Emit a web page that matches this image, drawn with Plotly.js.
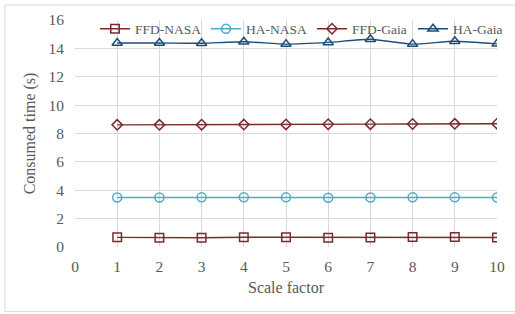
<!DOCTYPE html>
<html>
<head>
<meta charset="utf-8">
<script src="https://cdn.plot.ly/plotly-3.0.1.min.js"></script>
<style>html,body{margin:0;padding:0;background:#fff;}#chart{width:515px;height:314px;}</style>
</head>
<body>
<div id="chart"></div>
<script>
const scaleFactor = [1, 2, 3, 4, 5, 6, 7, 8, 9, 10];
const ffdNasa = [0.68, 0.65, 0.65, 0.69, 0.69, 0.66, 0.67, 0.71, 0.71, 0.67];
const haNasa = [3.49, 3.49, 3.5, 3.51, 3.5, 3.47, 3.49, 3.5, 3.5, 3.49];
const ffdGaia = [8.61, 8.61, 8.62, 8.63, 8.64, 8.65, 8.66, 8.67, 8.68, 8.69];
const haGaia = [14.38, 14.38, 14.36, 14.47, 14.3, 14.42, 14.64, 14.3, 14.5, 14.32];
const seriesNames = ["FFD-NASA", "HA-NASA", "FFD-Gaia", "HA-Gaia"];

const fam = "Liberation Serif";
const gray = "#595959";
const tickFont = {family: fam, size: 15.5, color: gray};
const titleFont = {family: fam, size: 16, color: gray};
const legFont = {family: fam, size: 13.5, color: gray};
function tr(name, y, color, symbol, size, legendId, spline) {
  return {
    x: scaleFactor, y: y, name: name, type: "scatter", mode: "lines+markers", legend: legendId,
    line: {color: color, width: 1.4, shape: spline ? "spline" : "linear", smoothing: 0.5},
    marker: {symbol: symbol, size: size, color: color, line: {color: color, width: 1.5}}
  };
}
const data = [
  tr(seriesNames[0], ffdNasa, "#7b2b2b", "square-open", 8.5, "legend", false),
  tr(seriesNames[1], haNasa, "#4bacc6", "circle-open", 9, "legend2", false),
  tr(seriesNames[2], ffdGaia, "#7b2b2b", "diamond-open", 8, "legend3", false),
  tr(seriesNames[3], haGaia, "#1f4e79", "triangle-up-open", 9, "legend4", true)
];
function leg(px) {
  return {orientation: "h", x: (px - 75) / 422, xanchor: "left", y: 1 - 9 / 226.7, yanchor: "middle",
          bgcolor: "rgba(0,0,0,0)", font: legFont, itemwidth: 30};
}
const layout = {
  width: 515, height: 314,
  margin: {l: 75, r: 18, t: 20, b: 67, autoexpand: false},
  paper_bgcolor: "#fff", plot_bgcolor: "#fff",
  font: tickFont,
  showlegend: true,
  legend: leg(95), legend2: leg(206), legend3: leg(312), legend4: leg(413),
  xaxis: {range: [0, 10], dtick: 1, tick0: 0, showgrid: true, gridcolor: "#d9d9d9", gridwidth: 1,
          zeroline: false, showline: false, ticks: "", ticklabelstandoff: 8, tickfont: tickFont,
          automargin: false,
          title: {text: "Scale factor", font: titleFont, standoff: 8}},
  yaxis: {range: [0, 16], dtick: 2, showgrid: true, gridcolor: "#d9d9d9", gridwidth: 1,
          zeroline: false, showline: false, ticks: "", ticklabelstandoff: 10, tickfont: tickFont,
          automargin: false,
          title: {text: "Consumed time (s)", font: titleFont, standoff: 8}},
  shapes: [{type: "rect", xref: "paper", yref: "paper", layer: "below",
            x0: -70/422, x1: 530/422 , y0: -64.5/226.7, y1: 1 + 15/226.7,
            line: {color: "#d9d9d9", width: 1}}]
};
Plotly.newPlot("chart", data, layout, {displayModeBar: false, staticPlot: true});
</script>
</body>
</html>
